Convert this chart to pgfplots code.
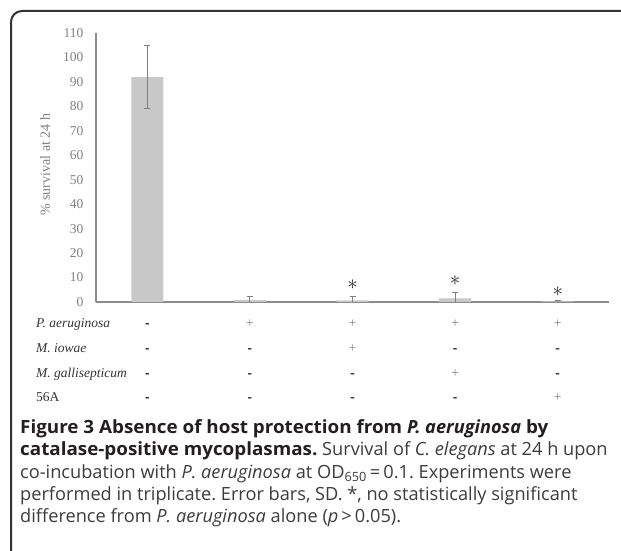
\documentclass[border=0pt]{standalone}
\usepackage{fontspec}
\setmainfont{Liberation Serif}
\newfontfamily\capfont{Open Sans}[BoldFeatures={FakeStretch=1.035}]
\usepackage{pgfplots}
\pgfplotsset{compat=1.18}
\definecolor{barfill}{HTML}{C8C8C8}
\definecolor{errgray}{HTML}{7F7F7F}
\definecolor{axisgray}{HTML}{8C8C8C}
\definecolor{tickgray}{HTML}{808080}
\definecolor{rowtext}{HTML}{333333}
\definecolor{framecol}{HTML}{333333}
\definecolor{capbold}{HTML}{231F20}
\definecolor{captext}{HTML}{3C3C3C}
\newcommand\yes{\textcolor{errgray}{+}}
\newcommand\no{\textbf{-}}

\begin{document}
\frenchspacing
\begin{tikzpicture}[x=1pt,y=1pt]
\useasboundingbox (0,0) rectangle (621,551);
% frame, open at the right and bottom
\draw[framecol, line width=2pt, rounded corners=11pt] (11,-2) -- (11,540) -- (623,540);

\begin{axis}[
  at={(96pt,249pt)}, anchor=south west,
  width=513pt, height=269pt, scale only axis,
  xmin=-0.5, xmax=4.5, ymin=0, ymax=110,
  axis x line*=bottom, axis y line*=left,
  axis line style={draw=axisgray, line width=1.2pt},
  xtick=\empty,
  ytick={0,10,...,110},
  major tick length=0pt,
  /pgf/number format/assume math mode=true,
  yticklabel style={font=\fontsize{13.5}{16}\selectfont, text=tickgray, xshift=-9pt},
  ylabel={\% survival at 24 h},
  ylabel style={at={(axis description cs:-0.0994,0.51)}, anchor=center,
    font=\fontsize{14}{16}\selectfont, text=tickgray},
]
  \addplot[ybar, bar width=32pt, fill=barfill, draw=none,
    error bars/.cd, y dir=both, y explicit,
    error bar style={draw=errgray, line width=0.9pt},
    error mark options={rotate=90, mark size=3pt, draw=errgray, line width=0.9pt}]
  coordinates {
    (0,92.0) +- (0,13.0)
    (1,0.8)  +- (0,1.5)
    (2,0.7)  +- (0,1.6)
    (3,1.5)  +- (0,2.5)
    (4,0.3)  +- (0,0.3)
  };
  % significance markers
  \addplot[only marks, mark=*, mark size=0pt, mark options={draw=none, fill=none},
    nodes near coords={$\ast$},
    nodes near coords style={anchor=center, font=\huge, text=black!85}]
  coordinates { (2,6.95) (3,8.7) (4,4.2) };
\end{axis}

% condition table
\foreach \lab/\yy in {{\textit{P. aeruginosa}}/223, {\textit{M. iowae}}/198,
                      {\textit{M. gallisepticum}}/173.5, {56A}/149}
  \node[anchor=base west, inner sep=0pt, text=rowtext,
        font=\fontsize{13.5}{16}\selectfont] at (36,\yy) {\lab};
\foreach \xx/\a/\b/\c/\d in {147.3/\no/\no/\no/\no, 249.9/\yes/\no/\no/\no,
    352.5/\yes/\yes/\no/\no, 455.1/\yes/\no/\yes/\no, 557.7/\yes/\no/\no/\yes} {
  \node[anchor=base, inner sep=0pt, font=\fontsize{13.5}{16}\selectfont] at (\xx,223) {\a};
  \node[anchor=base, inner sep=0pt, font=\fontsize{13.5}{16}\selectfont] at (\xx,198) {\b};
  \node[anchor=base, inner sep=0pt, font=\fontsize{13.5}{16}\selectfont] at (\xx,173.5) {\c};
  \node[anchor=base, inner sep=0pt, font=\fontsize{13.5}{16}\selectfont] at (\xx,149) {\d};
}

% caption
\begin{scope}[every node/.style={anchor=base west, inner sep=0pt, text=captext,
    font=\capfont\fontsize{18.2}{20}\selectfont}]
\node at (20,117) {\textcolor{capbold}{\textbf{Figure 3 Absence of host protection from \textit{P.~aeruginosa} by}}};
\node at (20,95) {\textcolor{capbold}{\textbf{catalase-positive mycoplasmas.}} Survival of \textit{C.~elegans} at 24 h upon};
\node at (20,72.5) {co-incubation with \textit{P.~aeruginosa} at OD\textsubscript{650}\,=\,0.1. Experiments were};
\node at (20,50.5) {performed in triplicate. Error bars, SD. *, no statistically significant};
\node at (20,28.5) {difference from \textit{P.~aeruginosa} alone (\textit{p}\,>\,0.05).};
\end{scope}
\end{tikzpicture}
\end{document}
